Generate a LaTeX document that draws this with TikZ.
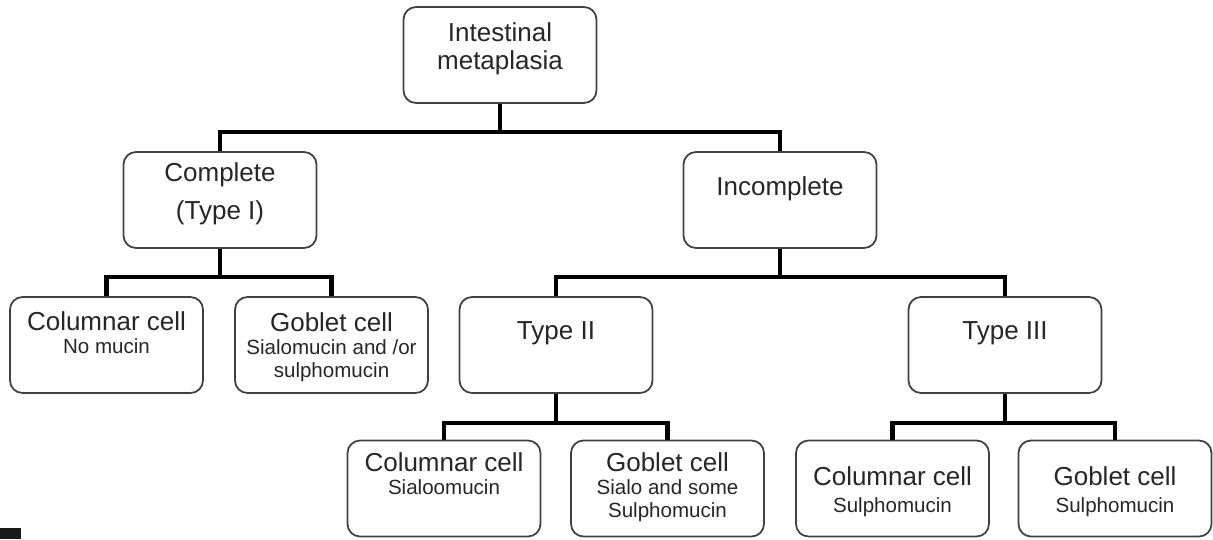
\documentclass[tikz,border=0pt]{standalone}
\usepackage{fontspec}
\setmainfont{Liberation Sans}
\usetikzlibrary{positioning}
\newcommand{\subl}{\fontsize{11.7}{13}\selectfont}

\tikzset{
  box/.style={draw=black!75, line width=1pt, rounded corners=0.25cm,
    minimum width=3.86cm, minimum height=1.92cm, inner sep=0pt},
  txt/.style={align=center, inner sep=0pt, text=black!85,
    font=\fontsize{14.8}{13}\selectfont},
  conn/.style={line width=2.3pt, line join=miter}
}

\begin{document}
\begin{tikzpicture}[x=0.02cm, y=-0.02cm]
          \useasboundingbox (0,0) rectangle (1213,539);
          % boxes
          \node [box] (root) at (500,55) {};
          \node [box] (comp) at (220,200) {};
          \node [box] (inc) at (780,200) {};
          \node [box] (colA) at (106.5,345) {};
          \node [box] (gobA) at (331.5,345) {};
          \node [box] (typeII) at (556,345) {};
          \node [box] (typeIII) at (1005,345) {};
          \node [box] (colB) at (444,488.5) {};
          \node [box] (gobB) at (667.5,488.5) {};
          \node [box] (colC) at (892.5,488.5) {};
          \node [box] (gobC) at (1115,488.5) {};
          % labels
          \node [txt, below=.32cm of root.north] (rootT) {Intestinal\\[3pt]metaplasia};
          \node [txt, below=.22cm of comp.north] (compT) {Complete\\[7pt](Type I)};
          \node [txt, below=.50cm of inc.north] (incT) {Incomplete};
          \node [txt, below=.30cm of colA.north] (colAT) {Columnar cell\\{\subl No mucin}};
          \node [txt, below=.32cm of gobA.north] (gobAT) {Goblet cell\\{\subl Sialomucin and /or}\\{\subl sulphomucin}};
          \node [txt, below=.50cm of typeII.north] (typeIIT) {Type II};
          \node [txt, below=.50cm of typeIII.north] (typeIIIT) {Type III};
          \node [txt, below=.26cm of colB.north] (colBT) {Columnar cell\\{\subl Sialoomucin}};
          \node [txt, below=.26cm of gobB.north] (gobBT) {Goblet cell\\{\subl Sialo and some}\\{\subl Sulphomucin}};
          \node [txt, below=.54cm of colC.north] (colCT) {Columnar cell\\[2pt]{\subl Sulphomucin}};
          \node [txt, below=.54cm of gobC.north] (gobCT) {Goblet cell\\[2pt]{\subl Sulphomucin}};
          % tree lines
          \coordinate (bar1) at (0,132);
          \coordinate (bar2) at (0,277);
          \coordinate (bar3) at (0,423);
          \draw [conn] (root.south) -- (root.south |- bar1);
          \draw [conn] (comp.north) |- (inc.north |- bar1) -- (inc.north);
          \draw [conn] (comp.south) -- (comp.south |- bar2);
          \draw [conn] (colA.north) |- (gobA.north |- bar2) -- (gobA.north);
          \draw [conn] (inc.south) -- (inc.south |- bar2);
          \draw [conn] (typeII.north) |- (typeIII.north |- bar2) -- (typeIII.north);
          \draw [conn] (typeII.south) -- (typeII.south |- bar3);
          \draw [conn] (colB.north) |- (gobB.north |- bar3) -- (gobB.north);
          \draw [conn] (typeIII.south) -- (typeIII.south |- bar3);
          \draw [conn] (colC.north) |- (gobC.north |- bar3) -- (gobC.north);
          % corner mark
          \fill [black!90] (0,528) rectangle (21,539);
     \end{tikzpicture}
\end{document}
